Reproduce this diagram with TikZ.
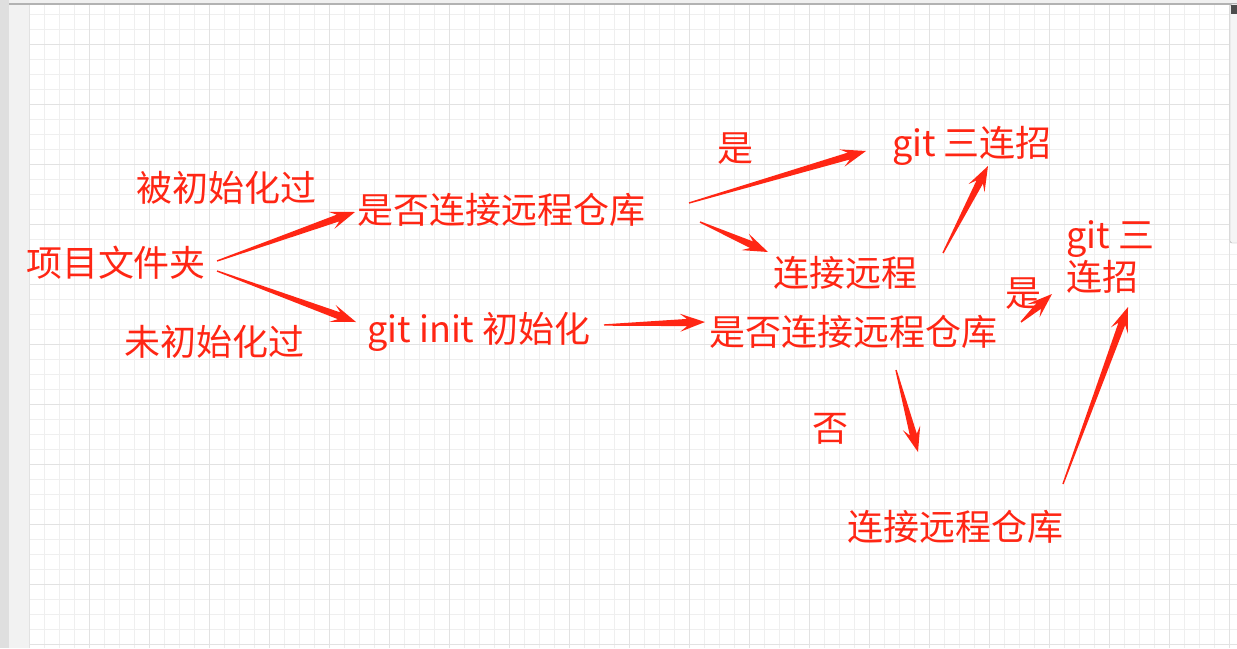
\documentclass[tikz,border=0pt]{standalone}
\usepackage{fontspec}
\setmainfont{Noto Sans CJK SC}
\usetikzlibrary{calc}
\definecolor{arrowred}{RGB}{255,38,20}
\definecolor{gridminor}{RGB}{239,239,239}
\definecolor{gridmajor}{RGB}{226,226,226}
\newcommand\taperarrow[2]{%
  \coordinate (tl) at (#1);
  \coordinate (tp) at (#2);
  \fill[arrowred] ($(tl)!0.7pt!90:(tp)$) -- ($(tp)!18pt!(tl)!3.6pt!-90:(tl)$) -- ($(tp)!25pt!(tl)!9pt!-90:(tl)$) -- (tp) -- ($(tp)!25pt!(tl)!9pt!90:(tl)$) -- ($(tp)!18pt!(tl)!3.6pt!90:(tl)$) -- ($(tl)!0.7pt!-90:(tp)$) -- cycle;}
\begin{document}
\begin{tikzpicture}[x=1pt,y=-1pt,
  lbl/.style={text=arrowred, font=\fontsize{36}{42}\selectfont, inner sep=0pt, anchor=base},
  minor/.style={draw=gridminor, line width=1pt},
  major/.style={draw=gridmajor, line width=1pt}]
\useasboundingbox (0,0) rectangle (1237,648);
\fill[white] (0,0) rectangle (1237,648);
\foreach \gx in {29,44,...,1229} \draw[minor] (\gx,4) -- (\gx,648);
\foreach \gy in {14,29,...,644} \draw[minor] (29,\gy) -- (1237,\gy);
\foreach \gx in {29,89,...,1229} \draw[major] (\gx,4) -- (\gx,648);
\foreach \gy in {44,104,...,644} \draw[major] (29,\gy) -- (1237,\gy);
\fill[gray!25] (0,0) rectangle (9,648);
\fill[gray!10] (9,0) rectangle (29,648);
\fill[gray!12] (9,0) rectangle (1237,4);
\draw[gray!60, line width=1.2pt] (9,4) -- (1237,4);
\draw[fill=gray!8, draw=gray!70, rounded corners=2pt] (1237,4) -- (1230,4) -- (1230,243) -- (1237,243);
\fill[black!70] (1231,5) rectangle (1237,14);

\node [lbl] (initd) at (226,201) {被初始化过};
\node [lbl] (proj) at (116,276) {项目文件夹};
\node [lbl] (uninit) at (214,355) {未初始化过};
\node [lbl] (askA) at (501,223) {是否连接远程仓库};
\node [lbl] (gitinit) at (479,342) {git init 初始化};
\node [lbl] (yesA) at (735,161) {是};
\node [lbl] (tripleA) at (972,156) {git 三连招};
\node [lbl] (connA) at (845,286) {连接远程};
\node [lbl] (askB) at (853,345) {是否连接远程仓库};
\node [lbl] (yesB) at (1023,306) {是};
\node [lbl, align=left, anchor=base west] (tripleB) at (1066,290) {git 三\\连招};
\node [lbl] (no) at (830,441) {否};
\node [lbl] (connB) at (955,540) {连接远程仓库};

\taperarrow{[shift={(101,-15)}]proj.base}{[shift={(-146,-11)}]askA.base}
\taperarrow{[shift={(101,-5)}]proj.base}{[shift={(-123,-20)}]gitinit.base}
\taperarrow{[shift={(125,-17)}]gitinit.base}{[shift={(-148,-23)}]askB.base}
\taperarrow{[shift={(188,-20)}]askA.base}{[shift={(-106,-5)}]tripleA.base}
\taperarrow{[shift={(199,-1)}]askA.base}{[shift={(-77,-34)}]connA.base}
\taperarrow{[shift={(98,-33)}]connA.base}{[shift={(16,10)}]tripleA.base}
\taperarrow{[shift={(168,-23)}]askB.base}{[shift={(-14,4)}]tripleB.base west}
\taperarrow{[shift={(43,25)}]askB.base}{[shift={(-37,-88)}]connB.base}
\taperarrow{[shift={(108,-56)}]connB.base}{[shift={(62,17)}]tripleB.base west}
\end{tikzpicture}
\end{document}
